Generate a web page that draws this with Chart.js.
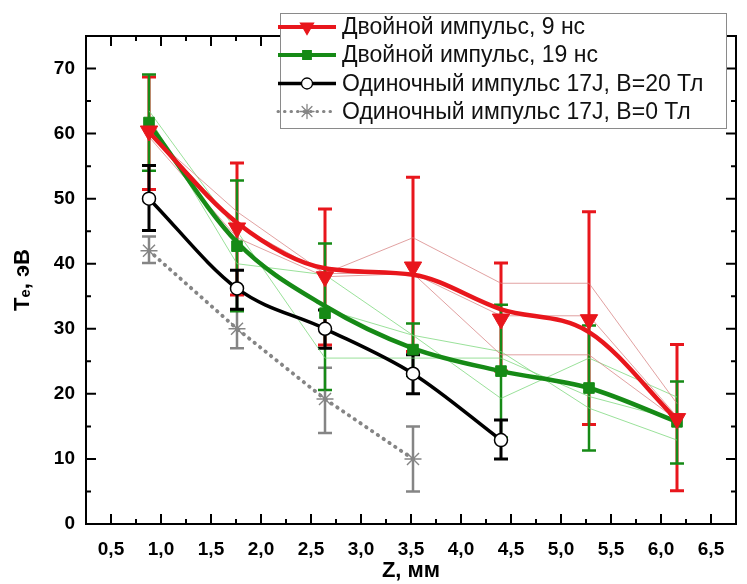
<!DOCTYPE html>
<html><head><meta charset="utf-8">
<script src="https://cdn.jsdelivr.net/npm/chart.js@4.4.0/dist/chart.umd.min.js"></script>
<style>html,body{margin:0;padding:0;background:#fff}#wrap{width:747px;height:584px}</style>
</head><body><div id="wrap"><canvas id="c" width="747" height="584"></canvas></div>
<script>
// ---- data ----
const zValues   = [0.88, 1.76, 2.64, 3.52, 4.40, 5.28, 6.16];
const zBlack    = [0.88, 1.76, 2.64, 3.52, 4.40];
const zGray     = [0.88, 1.76, 2.64, 3.52];

const red9Markers = [60.4, 45.5, 38.0, 39.5, 31.5, 31.4, 16.2];
const red9Curve   = [60.2, 46.3, 39.3, 38.3, 33.0, 29.5, 16.0];
const red9High    = [68.7, 55.5, 48.4, 53.3, 40.1, 48.0, 27.6];
const red9Low     = [51.4, 35.2, 27.5, 26.5, 23.5, 15.3, 5.1];

const green19Markers = [61.7, 42.7, 32.4, 26.8, 23.5, 20.9, 15.7];
const green19Curve   = [61.5, 43.3, 33.5, 27.0, 23.5, 20.9, 15.7];
const green19High    = [69.1, 52.8, 43.1, 30.8, 33.7, 30.5, 21.9];
const green19Low     = [54.3, 32.7, 20.6, 22.8, 13.3, 11.3, 9.3];

const black20     = [50.0, 36.2, 30.0, 23.1, 12.9];
const black20High = [55.1, 39.0, 32.9, 26.0, 16.0];
const black20Low  = [45.1, 33.0, 27.0, 20.0, 10.0];

const gray0     = [42.0, 30.0, 19.2, 10.0];
const gray0High = [44.2, 33.0, 24.0, 15.0];
const gray0Low  = [40.1, 27.0, 14.0, 5.0];

const thinRed1   = [60.0, 48.0, 38.5, 44.0, 37.0, 37.0, 18.5];
const thinRed2   = [59.5, 44.0, 38.0, 38.5, 26.0, 26.0, 16.0];
const thinRed3   = [60.5, 46.0, 38.5, 38.5, 32.0, 32.0, 16.5];
const thinGreen1 = [62.5, 40.0, 38.3, 29.0, 19.3, 25.5, 19.5];
const thinGreen2 = [63.5, 45.0, 25.5, 25.5, 25.5, 19.6, 16.0];
const thinGreen3 = [61.0, 43.0, 33.0, 29.0, 26.5, 17.8, 12.9];

const xTickValues = [0.5, 1.0, 1.5, 2.0, 2.5, 3.0, 3.5, 4.0, 4.5, 5.0, 5.5, 6.0, 6.5];
const yTickValues = [0, 10, 20, 30, 40, 50, 60, 70];

const legendLabels = [
  'Двойной импульс, 9 нс',
  'Двойной импульс, 19 нс',
  'Одиночный импульс 17J, B=20 Тл',
  'Одиночный импульс 17J, B=0 Тл'
];
const xTitle = 'Z, мм';
const yTitle = 'Tₑ, эВ';

// ---- styles ----
const FONT = "'Liberation Sans', Arial, sans-serif";
const RED = '#e8161c', GREEN = '#168a16', BLACK = '#000000', GRAY = '#858585';
const THIN_RED = 'rgba(215,130,130,0.75)', THIN_GREEN = 'rgba(120,215,120,0.75)';

const pts = (xs, ys) => xs.map((x, i) => ({x, y: ys[i]}));

function thin(ys, color) {
  return {data: pts(zValues, ys), showLine: true, borderColor: color, borderWidth: 1,
          pointRadius: 0, tension: 0};
}

const datasets = [
  {data: pts(zValues, red9Markers), showLine: false, pointStyle: 'triangle', pointRotation: 180,
   pointRadius: 10, pointBackgroundColor: RED, pointBorderColor: RED, pointBorderWidth: 1},
  {data: pts(zValues, red9Curve), showLine: true, borderColor: RED, borderWidth: 4.5,
   pointRadius: 0, cubicInterpolationMode: 'monotone'},
  {data: pts(zValues, green19Markers), showLine: false, pointStyle: 'rect',
   pointRadius: 7.5, pointBackgroundColor: GREEN, pointBorderColor: GREEN, pointBorderWidth: 1},
  {data: pts(zValues, green19Curve), showLine: true, borderColor: GREEN, borderWidth: 4.5,
   pointRadius: 0, cubicInterpolationMode: 'monotone'},
  {data: pts(zBlack, black20), showLine: true, borderColor: BLACK, borderWidth: 3.5,
   cubicInterpolationMode: 'monotone', pointStyle: 'circle', pointRadius: 6.5,
   pointBackgroundColor: '#fff', pointBorderColor: BLACK, pointBorderWidth: 1.5},
  {data: pts(zGray, gray0), showLine: true, borderColor: GRAY, borderWidth: 3.8,
   borderDash: [0.5, 6.5], borderCapStyle: 'round', tension: 0,
   pointStyle: 'star', pointRadius: 8.5, pointBorderColor: GRAY, pointBackgroundColor: GRAY, pointBorderWidth: 1.4},
  thin(thinRed1, THIN_RED), thin(thinRed2, THIN_RED), thin(thinRed3, THIN_RED),
  thin(thinGreen1, THIN_GREEN), thin(thinGreen2, THIN_GREEN), thin(thinGreen3, THIN_GREEN)
];

function drawErr(ctx, x, y, zs, lo, hi, color, lw, cap) {
  ctx.strokeStyle = color; ctx.lineWidth = lw; ctx.lineCap = 'butt';
  zs.forEach((z, i) => {
    const px = x.getPixelForValue(z), p1 = y.getPixelForValue(lo[i]), p2 = y.getPixelForValue(hi[i]);
    ctx.beginPath();
    ctx.moveTo(px, p1); ctx.lineTo(px, p2);
    ctx.moveTo(px - cap, p1); ctx.lineTo(px + cap, p1);
    ctx.moveTo(px - cap, p2); ctx.lineTo(px + cap, p2);
    ctx.stroke();
  });
}

const framePlugin = {
  id: 'frameErr',
  beforeDatasetsDraw(chart) {
    const {ctx, chartArea: a, scales: {x, y}} = chart;
    ctx.save();
    ctx.strokeStyle = '#000'; ctx.lineWidth = 2;
    ctx.strokeRect(a.left, a.top, a.right - a.left, a.bottom - a.top);
    ctx.beginPath();
    for (let k = 1; k < 26; k++) {
      const v = 0.25 + k * 0.25;
      const px = x.getPixelForValue(v);
      const L = (k % 2 === 1) ? 10 : 5;
      ctx.moveTo(px, a.bottom); ctx.lineTo(px, a.bottom - L);
      ctx.moveTo(px, a.top); ctx.lineTo(px, a.top + L);
    }
    for (let k = 1; k < 15; k++) {
      const v = k * 5;
      const py = y.getPixelForValue(v);
      const L = (k % 2 === 0) ? 10 : 5;
      ctx.moveTo(a.left, py); ctx.lineTo(a.left + L, py);
      ctx.moveTo(a.right, py); ctx.lineTo(a.right - L, py);
    }
    ctx.stroke();
    drawErr(ctx, x, y, zGray, gray0Low, gray0High, GRAY, 2.5, 7);
    drawErr(ctx, x, y, zValues, red9Low, red9High, RED, 3, 7);
    drawErr(ctx, x, y, zValues, green19Low, green19High, GREEN, 2.5, 7);
    drawErr(ctx, x, y, zBlack, black20Low, black20High, BLACK, 3, 7);
    ctx.restore();
  },
  afterDraw(chart) {
    const ctx = chart.ctx;
    ctx.save();
    ctx.fillStyle = '#fff';
    ctx.fillRect(280.5, 13.5, 446, 115);
    ctx.strokeStyle = '#8a8a8a'; ctx.lineWidth = 1;
    ctx.strokeRect(280.5, 13.5, 446, 115);
    const rows = [27, 55, 83.5, 111.5];
    const styles = [
      {color: RED, lw: 4, dash: [], ps: 'triangle', rot: 180, r: 7.5, fill: RED},
      {color: GREEN, lw: 4, dash: [], ps: 'rect', rot: 0, r: 6, fill: GREEN},
      {color: BLACK, lw: 3.5, dash: [], ps: 'circle', rot: 0, r: 5.5, fill: '#fff'},
      {color: GRAY, lw: 3, dash: [0.5, 6], ps: 'star', rot: 0, r: 7, fill: GRAY}
    ];
    styles.forEach((s, i) => {
      const yy = rows[i];
      ctx.strokeStyle = s.color; ctx.lineWidth = s.lw; ctx.setLineDash(s.dash);
      ctx.lineCap = s.dash.length ? 'round' : 'butt';
      ctx.beginPath(); ctx.moveTo(278, yy); ctx.lineTo(336, yy); ctx.stroke();
      ctx.setLineDash([]);
      ctx.fillStyle = s.fill; ctx.strokeStyle = s.color; ctx.lineWidth = 1.3;
      Chart.helpers.drawPoint(ctx, {pointStyle: s.ps, radius: s.r, rotation: s.rot, borderWidth: 1.3}, 307, yy);
      ctx.fillStyle = '#111';
      ctx.font = '23px ' + FONT;
      ctx.textBaseline = 'middle'; ctx.textAlign = 'left';
      ctx.fillText(legendLabels[i], 342, yy + 1);
    });
    ctx.restore();
  }
};

new Chart(document.getElementById('c'), {
  type: 'scatter',
  data: {datasets},
  options: {
    responsive: false, animation: false, devicePixelRatio: 1,
    layout: {padding: {left: 0, right: 3, top: 36, bottom: 0}},
    plugins: {legend: {display: false}, tooltip: {enabled: false}},
    scales: {
      x: {
        type: 'linear', min: 0.25, max: 6.75,
        afterBuildTicks: s => { s.ticks = xTickValues.map(v => ({value: v})); },
        afterFit: s => { s.height = 60; },
        grid: {display: false, drawTicks: false}, border: {display: false},
        ticks: {color: '#000', padding: 14, maxRotation: 0, autoSkip: false,
                font: {family: FONT, size: 19, weight: 'bold'},
                callback: v => Number(v).toFixed(1).replace('.', ',')},
        title: {display: true, text: xTitle, color: '#000', padding: 0,
                font: {family: FONT, size: 22, weight: 'bold'}}
      },
      y: {
        type: 'linear', min: 0, max: 75,
        afterBuildTicks: s => { s.ticks = yTickValues.map(v => ({value: v})); },
        afterFit: s => { s.width = 86; },
        grid: {display: false, drawTicks: false}, border: {display: false},
        ticks: {color: '#000', padding: 11, font: {family: FONT, size: 19, weight: 'bold'},
                callback: v => String(v)},
        title: {display: true, text: yTitle, color: '#000', padding: {top: 10, bottom: 0},
                font: {family: FONT, size: 22, weight: 'bold'}}
      }
    }
  },
  plugins: [framePlugin]
});
</script></body></html>
